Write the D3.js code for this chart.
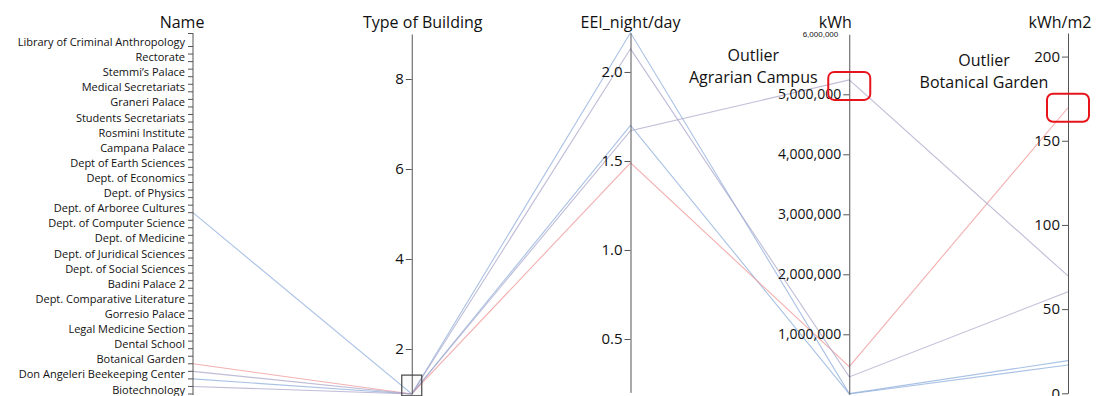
<!DOCTYPE html>
<html>
<head>
<meta charset="utf-8">
<script src="https://cdn.jsdelivr.net/npm/d3@7"></script>
<style>
  html, body { margin: 0; padding: 0; background: #fff; }
  svg { display: block; font-family: "Open Sans", "Noto Sans", sans-serif; }
</style>
</head>
<body>
<svg id="chart" width="1099" height="396"></svg>
<script>
// Buildings listed on the Name axis (every other slot carries a label)
const labeledNames = [
  "Library of Criminal Anthropology", "Rectorate", "Stemmi\u2019s  Palace",
  "Medical Secretariats", "Graneri Palace", "Students Secretariats",
  "Rosmini Institute", "Campana Palace", "Dept of Earth Sciences",
  "Dept. of Economics", "Dept. of Physics", "Dept. of Arboree Cultures",
  "Dept. of Computer Science", "Dept. of Medicine", "Dept. of Juridical Sciences",
  "Dept. of Social Sciences", "Badini Palace 2", "Dept. Comparative Literature",
  "Gorresio Palace", "Legal Medicine Section", "Dental School",
  "Botanical Garden", "Don Angeleri Beekeeping Center", "Biotechnology"
];
// Buildings sitting on unlabeled slots, with their slot index
const unlabeledNames = ["Agrarian Campus", "Veterinary Hospital"];
const unlabeledSlots = [43, 45];

// Dimensions (axes) of the parallel coordinates
const dimensions = ["Name", "Type of Building", "EEI_night/day", "kWh", "kWh/m2"];

// Brushed selection: one entry per polyline
const lineNames   = ["Dept. of Arboree Cultures", "Don Angeleri Beekeeping Center",
                     "Botanical Garden", "Agrarian Campus", "Veterinary Hospital"];
const typeValues  = [1, 1, 1, 1, 1];
const eeiValues   = [2.22, 1.70, 1.49, 1.67, 2.13];
const kwhValues   = [12000, 6000, 460000, 5240000, 290000];
const kwhm2Values = [19.4, 16.8, 169.6, 69.7, 60.3];
const lineGroups  = ["blue", "blue", "red", "purple", "purple"];

// Tick values
const typeTicks  = [2, 4, 6, 8];
const eeiTicks   = [0.5, 1.0, 1.5, 2.0];
const kwhTicks   = [1000000, 2000000, 3000000, 4000000, 5000000];
const kwhm2Ticks = [0, 50, 100, 150, 200];

// Annotations (text offset relative to the highlighted point)
const outlierNotes = [
  { dim: "kWh", name: "Agrarian Campus", text: ["Outlier", "Agrarian Campus"],
    dx: -96, dy: -19, boxTop: -8 },
  { dim: "kWh/m2", name: "Botanical Garden", text: ["Outlier", "Botanical Garden"],
    dx: -84, dy: -42, boxTop: -14 }
];

const svg = d3.select("#chart");
const axisColor = "#555";

const x = d3.scalePoint().domain(dimensions).range([193, 1068]);

// Name axis: 47 slots
const slotCount = labeledNames.length * 2 - 1;
const slotY = d3.scalePoint().domain(d3.range(slotCount)).range([46.5, 394]);
const nameSlot = new Map();
labeledNames.forEach((n, i) => nameSlot.set(n, i * 2));
unlabeledNames.forEach((n, i) => nameSlot.set(n, unlabeledSlots[i]));

const y = {
  "Name": n => slotY(nameSlot.get(n)),
  "Type of Building": d3.scaleLinear().domain([1, 9]).range([394, 34]),
  "EEI_night/day": d3.scaleLinear().domain([0.2, 2.22]).range([392.4, 32.8]),
  "kWh": d3.scaleLinear().domain([0, 6000000]).range([394.3, 34.3]),
  "kWh/m2": d3.scaleLinear().domain([0, 214]).range([393.3, 33])
};

const records = lineNames.map((n, i) => ({
  "Name": n,
  "Type of Building": typeValues[i],
  "EEI_night/day": eeiValues[i],
  "kWh": kwhValues[i],
  "kWh/m2": kwhm2Values[i],
  group: lineGroups[i]
}));

const colors = { blue: "#8eaedb", purple: "#a9a5c9", red: "#ef9696" };

// Polylines
const line = d3.line();
svg.append("g").attr("fill", "none")
  .selectAll("path").data(records).join("path")
  .attr("d", d => line(dimensions.map(k => [x(k), y[k](d[k])])))
  .attr("stroke", d => colors[d.group])
  .attr("stroke-width", 1.1)
  .attr("stroke-opacity", 0.75);

// Name axis
const gName = svg.append("g").attr("transform", `translate(${x("Name")},0)`);
gName.append("line").attr("y1", 33).attr("y2", 395).attr("stroke", axisColor);
gName.selectAll("line.tick").data(d3.range(-1, slotCount)).join("line")
  .attr("class", "tick")
  .attr("x1", -5).attr("x2", 0)
  .attr("y1", i => i < 0 ? 33.5 : slotY(i)).attr("y2", i => i < 0 ? 33.5 : slotY(i))
  .attr("stroke", axisColor);
gName.selectAll("text").data(labeledNames).join("text")
  .attr("x", -8)
  .attr("y", (n, i) => slotY(i * 2) - 4)
  .attr("dy", "0.32em")
  .attr("text-anchor", "end")
  .attr("font-size", 11)
  .attr("fill", "#111")
  .text(n => n);

// Numeric axes
function numericAxis(dim, ticks, fmt, fontSize) {
  const g = svg.append("g").attr("transform", `translate(${x(dim)},0)`);
  const ax = d3.axisLeft(y[dim]).tickValues(ticks).tickFormat(fmt).tickSize(6).tickSizeOuter(0);
  g.call(ax);
  g.select(".domain").attr("stroke", axisColor);
  g.selectAll(".tick line").attr("stroke", axisColor);
  g.selectAll(".tick text").attr("font-size", fontSize).attr("fill", "#111")
    .attr("font-family", "\"Open Sans\", sans-serif").attr("x", -8);
  return g;
}
numericAxis("Type of Building", typeTicks, d3.format("d"), 15);
numericAxis("EEI_night/day", eeiTicks, d3.format(".1f"), 15);
const gKwh = numericAxis("kWh", kwhTicks, d3.format(","), 14);
numericAxis("kWh/m2", kwhm2Ticks, d3.format("d"), 15);

// small top label on the kWh axis
gKwh.append("text")
  .attr("x", -11).attr("y", y["kWh"](6000000))
  .attr("dy", "0.32em")
  .attr("text-anchor", "end")
  .attr("font-size", 8)
  .attr("fill", "#111")
  .text(d3.format(",")(6000000));

// Axis titles
const titleOffsets = { "Name": -11, "Type of Building": 11, "EEI_night/day": 0, "kWh": -14, "kWh/m2": -8 };
svg.append("g").selectAll("text").data(dimensions).join("text")
  .attr("x", d => x(d) + titleOffsets[d])
  .attr("y", 28)
  .attr("text-anchor", "middle")
  .attr("font-size", 16)
  .attr("fill", "#111")
  .text(d => d);

// Brush on the Type of Building axis
const ty = y["Type of Building"];
svg.append("rect")
  .attr("x", x("Type of Building") - 10)
  .attr("y", ty(1.42))
  .attr("width", 20)
  .attr("height", ty(0.96) - ty(1.42))
  .attr("fill", "rgba(0,0,0,0.02)")
  .attr("stroke", "#444")
  .attr("stroke-width", 1.2);

// Outlier annotations
outlierNotes.forEach(note => {
  const rec = records.find(r => r.Name === note.name);
  const cx = x(note.dim), cy = y[note.dim](rec[note.dim]);
  svg.append("rect")
    .attr("x", cx - 21).attr("y", cy + note.boxTop)
    .attr("width", 42).attr("height", 28)
    .attr("rx", 6)
    .attr("fill", "none")
    .attr("stroke", "#e8141c")
    .attr("stroke-width", 2);
  svg.append("text")
    .attr("x", cx + note.dx).attr("y", cy + note.dy)
    .attr("text-anchor", "middle")
    .attr("font-size", 16)
    .attr("fill", "#111")
    .selectAll("tspan").data(note.text).join("tspan")
    .attr("x", cx + note.dx)
    .attr("dy", (t, i) => i === 0 ? 0 : "1.4em")
    .text(t => t);
});
</script>
</body>
</html>
